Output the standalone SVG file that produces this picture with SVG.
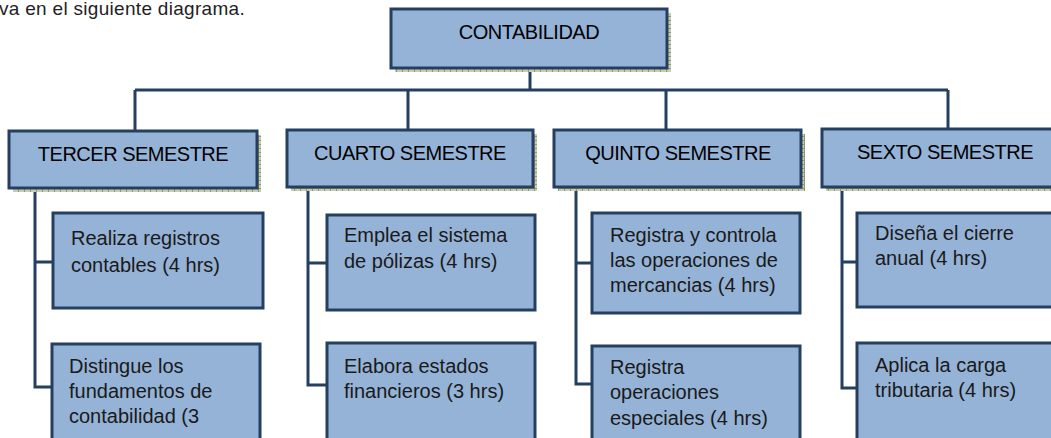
<svg xmlns="http://www.w3.org/2000/svg" width="1051" height="438" viewBox="0 0 1051 438">
<style>
.box{fill:#95B3D7;stroke:#243F60;stroke-width:3}
.shadow{fill:url(#grid)}
.conn{fill:none;stroke:#243F60;stroke-width:3}
.hdr{font-family:"Liberation Sans",Arial,sans-serif;font-size:20px;letter-spacing:-0.5px;fill:#000;text-anchor:middle}
.txt{font-family:"Liberation Sans",Arial,sans-serif;font-size:20px;fill:#1a1a1a}
.intro{font-family:"Liberation Sans",Arial,sans-serif;font-size:19px;letter-spacing:0.3px;fill:#222}
</style>
<defs>
<pattern id="grid" width="6" height="4" patternUnits="userSpaceOnUse">
<rect width="6" height="4" fill="#C9CDAE"/>
<path d="M0 0.5H6M0.5 0V4" stroke="#8E9770" stroke-width="1"/>
</pattern>
</defs>
<text class="intro" x="-1" y="15">va en el siguiente diagrama.</text>
<g id="connectors">
<path class="conn" d="M530 68V90M135 90H948M135 90V131M408 90V130M666 90V130M948 90V129"/>
<path class="conn" d="M35 188V387H52M35 262H53"/>
<path class="conn" d="M308 187V385H327M308 263H327"/>
<path class="conn" d="M576 187V384H592M576 263H592"/>
<path class="conn" d="M842 187V388H857M842 262H857"/>
</g>
<g id="contabilidad">
<rect class="shadow" x="395" y="13" width="276" height="59"/>
<rect class="box" x="391" y="9" width="276" height="59"/>
<text class="hdr" x="529" y="39">CONTABILIDAD</text>
</g>
<g id="tercer">
<rect class="shadow" x="13" y="135" width="248" height="57"/>
<rect class="box" x="9" y="131" width="248" height="57"/>
<text class="hdr" x="133" y="161">TERCER SEMESTRE</text>
</g>
<g id="cuarto">
<rect class="shadow" x="291" y="134" width="246" height="57"/>
<rect class="box" x="287" y="130" width="246" height="57"/>
<text class="hdr" x="410" y="160">CUARTO SEMESTRE</text>
</g>
<g id="quinto">
<rect class="shadow" x="558" y="134" width="247" height="57"/>
<rect class="box" x="554" y="130" width="247" height="57"/>
<text class="hdr" x="678" y="160">QUINTO SEMESTRE</text>
</g>
<g id="sexto">
<rect class="shadow" x="826" y="133" width="248" height="58"/>
<rect class="box" x="822" y="129" width="248" height="58"/>
<text class="hdr" x="945" y="159">SEXTO SEMESTRE</text>
</g>
<g id="t1">
<rect class="box" x="53" y="213" width="210" height="95"/>
<text class="txt" x="71" y="245">Realiza registros</text>
<text class="txt" x="71" y="272">contables (4 hrs)</text>
</g>
<g id="t2">
<rect class="box" x="52" y="344" width="208" height="106"/>
<text class="txt" x="69" y="373">Distingue los</text>
<text class="txt" x="69" y="398">fundamentos de</text>
<text class="txt" x="69" y="423">contabilidad (3</text>
</g>
<g id="c1">
<rect class="box" x="327" y="215" width="208" height="95"/>
<text class="txt" x="344" y="242">Emplea el sistema</text>
<text class="txt" x="344" y="268">de pólizas (4 hrs)</text>
</g>
<g id="c2">
<rect class="box" x="327" y="343" width="208" height="107"/>
<text class="txt" x="344" y="373">Elabora estados</text>
<text class="txt" x="344" y="398">financieros (3 hrs)</text>
</g>
<g id="q1">
<rect class="box" x="592" y="213" width="208" height="100"/>
<text class="txt" x="610" y="242">Registra y controla</text>
<text class="txt" x="610" y="267">las operaciones de</text>
<text class="txt" x="610" y="292">mercancias (4 hrs)</text>
</g>
<g id="q2">
<rect class="box" x="592" y="346" width="208" height="104"/>
<text class="txt" x="610" y="374">Registra</text>
<text class="txt" x="610" y="399">operaciones</text>
<text class="txt" x="610" y="425">especiales (4 hrs)</text>
</g>
<g id="s1">
<rect class="box" x="857" y="213" width="213" height="94"/>
<text class="txt" x="875" y="240">Diseña el cierre</text>
<text class="txt" x="875" y="265">anual (4 hrs)</text>
</g>
<g id="s2">
<rect class="box" x="857" y="343" width="213" height="107"/>
<text class="txt" x="875" y="372">Aplica la carga</text>
<text class="txt" x="875" y="397">tributaria (4 hrs)</text>
</g>
</svg>
